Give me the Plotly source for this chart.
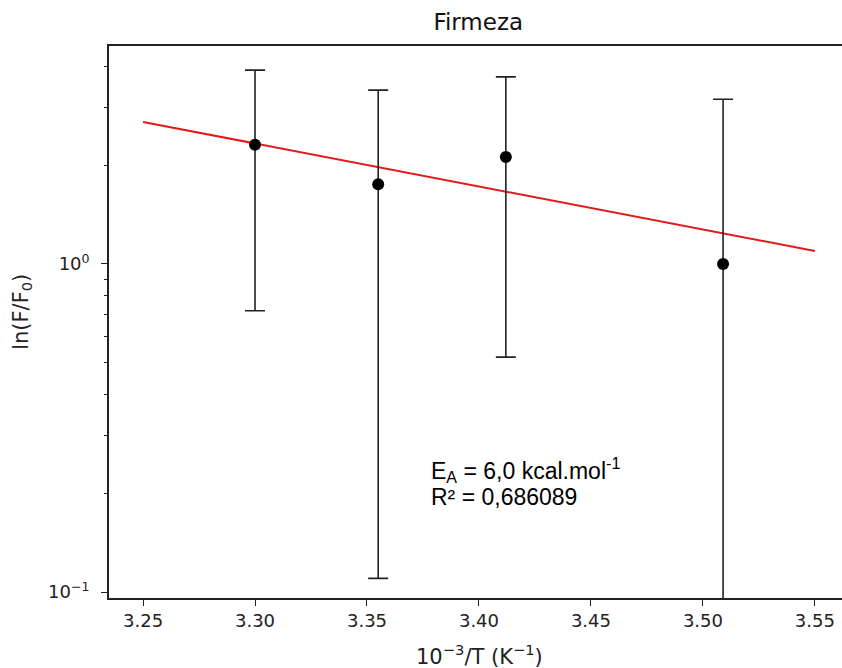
import numpy as np
import plotly.graph_objects as go

# Measured firmness ratios at each inverse temperature (1000/T, K^-1)
inv_temp = [3.300, 3.355, 3.412, 3.509]
firmness = [2.31, 1.75, 2.12, 1.00]
firmness_err = [1.59, 1.64, 1.60, 2.18]

# Arrhenius fit: ln(F/F0) = ln_a - (Ea/R) * (1000/T)
ea_kcal = 6.0
r_kcal = 1.987e-3
ln_a = 10.811
fit_x_range = [3.25, 3.55]
r_squared = "0,686089"

x_ticks = [3.25, 3.30, 3.35, 3.40, 3.45, 3.50, 3.55]
x_tick_text = ["3.25", "3.30", "3.35", "3.40", "3.45", "3.50", "3.55"]
y_ticks = [0.1, 1]
y_tick_text = ["10<sup>−1</sup>", "10<sup>0</sup>"]
y_minor = [0.2, 0.3, 0.4, 0.5, 0.6, 0.7, 0.8, 0.9, 2, 3, 4]

fit_x = np.linspace(fit_x_range[0], fit_x_range[1], 50)
fit_y = np.exp(ln_a - ea_kcal / r_kcal / 1000.0 * fit_x)

ink = "#222"
tick_font = dict(family="DejaVu Sans", size=18, color=ink)
label_font = dict(family="DejaVu Sans", size=21, color=ink)
note_font = dict(family="Liberation Sans, Arial", size=23, color="black")

fig = go.Figure()
fig.add_trace(go.Scatter(
    x=fit_x, y=fit_y, mode="lines",
    line=dict(color="#e31a1c", width=2), showlegend=False,
))
fig.add_trace(go.Scatter(
    x=inv_temp, y=firmness, mode="markers",
    marker=dict(color="black", size=12),
    error_y=dict(type="data", array=firmness_err, color=ink, thickness=1.6, width=10),
    showlegend=False,
))

# Fit summary text
fig.add_annotation(
    x=3.3776, y=-0.628, xref="x", yref="y",
    text="E<sub>A</sub> = 6,0 kcal.mol<sup>-1</sup>",
    showarrow=False, xanchor="left", yanchor="middle", font=note_font,
)
fig.add_annotation(
    x=3.3776, y=-0.710, xref="x", yref="y",
    text="R² = " + r_squared,
    showarrow=False, xanchor="left", yanchor="middle", font=note_font,
)

# Axis titles
fig.add_annotation(
    x=0.505, y=-0.103, xref="paper", yref="paper",
    text="10<sup>−3</sup>/T (K<sup>−1</sup>)",
    showarrow=False, xanchor="center", yanchor="middle", font=label_font,
)
fig.add_annotation(
    x=-0.119, y=0.518, xref="paper", yref="paper",
    text="ln(F/F<sub>0</sub>)", textangle=-90,
    showarrow=False, xanchor="center", yanchor="middle", font=label_font,
)

fig.update_layout(
    width=842, height=668,
    margin=dict(l=109, r=0, t=46, b=70),
    paper_bgcolor="white", plot_bgcolor="white",
    title=dict(text="Firmeza", xref="container", x=0.568, xanchor="center",
               yref="container", y=1 - 22 / 668, yanchor="middle",
               font=dict(family="DejaVu Sans", size=23, color="#111")),
)

fig.update_xaxes(
    range=[3.2348, 3.5621],
    tickvals=x_ticks, ticktext=x_tick_text,
    ticks="outside", ticklen=6, tickwidth=1.2, tickcolor=ink,
    showline=True, linecolor=ink, linewidth=1.6, mirror=True,
    showgrid=False, zeroline=False, tickfont=tick_font,
)
fig.update_yaxes(
    type="log", range=[-1.0183, 0.6646],
    tickvals=y_ticks, ticktext=y_tick_text,
    ticks="outside", ticklen=6, tickwidth=1.2, tickcolor=ink,
    ticklabelstandoff=8,
    minor=dict(ticks="outside", ticklen=3, tickcolor=ink, tickwidth=1, tickvals=y_minor),
    showline=True, linecolor=ink, linewidth=1.6, mirror=False,
    showgrid=False, zeroline=False, tickfont=tick_font,
)

fig.write_html("out.html")
